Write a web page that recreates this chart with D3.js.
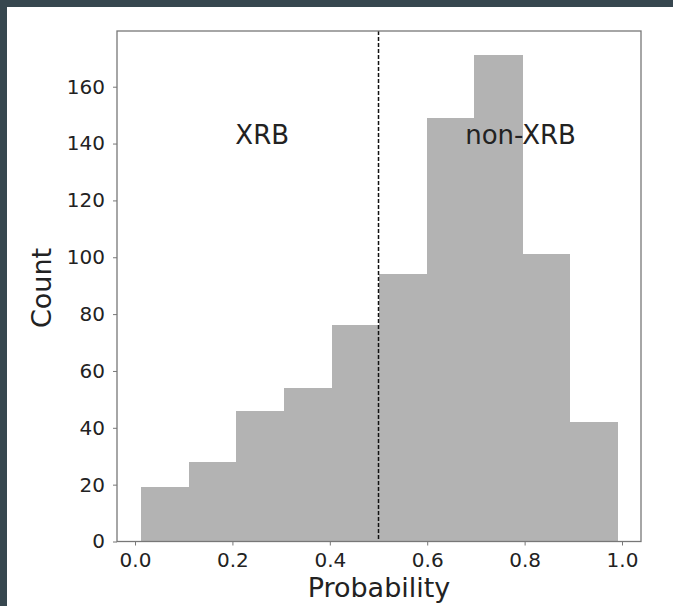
<!DOCTYPE html>
<html>
<head>
<meta charset="utf-8">
<script src="https://cdn.jsdelivr.net/npm/d3@7"></script>
<style>
  html, body { margin: 0; padding: 0; background: #37474f; }
  #chart { width: 673px; height: 606px; }
  text { font-family: "DejaVu Sans", sans-serif; }
</style>
</head>
<body>
<div id="chart"></div>
<script>
// histogram bins
const binEdges = [0.012, 0.110, 0.208, 0.306, 0.404, 0.502, 0.599, 0.697, 0.795, 0.893, 0.990];
const counts = [19, 28, 46, 54, 76, 94, 149, 171, 101, 42];
const xTicks = [0.0, 0.2, 0.4, 0.6, 0.8, 1.0];
const yTicks = [0, 20, 40, 60, 80, 100, 120, 140, 160];
const threshold = 0.5;
const labels = [
  { text: "XRB", x: 0.206, y: 140 },
  { text: "non-XRB", x: 0.678, y: 140 }
];

const W = 673, H = 606;
const plotL = 117, plotR = 641, plotT = 31, plotB = 541.5;

const svg = d3.select('#chart')
  .append('svg')
  .attr('width', W)
  .attr('height', H);

// white panel, dark frame only on the top and left
svg.append('rect')
  .attr('x', 7).attr('y', 7)
  .attr('width', W - 7).attr('height', H - 7)
  .attr('fill', '#ffffff');

const x = d3.scaleLinear().domain([-0.037, 1.039]).range([plotL, plotR]);
const y = d3.scaleLinear().domain([0, 179.6]).range([plotB, plotT]);

const bins = counts.map((c, i) => ({ x0: binEdges[i], x1: binEdges[i + 1], n: c }));

// bars (no seams between neighbours)
svg.selectAll('.bar')
  .data(bins)
  .enter().append('rect')
  .attr('class', 'bar')
  .attr('x', d => x(d.x0))
  .attr('y', d => y(d.n))
  .attr('width', d => x(d.x1) - x(d.x0) + 0.6)
  .attr('height', d => y(0) - y(d.n))
  .attr('fill', '#b3b3b3')
  .attr('shape-rendering', 'crispEdges');

// threshold line
svg.append('line')
  .attr('x1', x(threshold)).attr('x2', x(threshold))
  .attr('y1', plotT).attr('y2', plotB)
  .attr('stroke', '#111')
  .attr('stroke-width', 1.5)
  .attr('stroke-dasharray', '4,2');

// axes
const xAxis = svg.append('g')
  .attr('transform', `translate(0, ${plotB})`)
  .call(d3.axisBottom(x).tickValues(xTicks).tickFormat(d3.format('.1f')).tickSize(4).tickPadding(7));

const yAxis = svg.append('g')
  .attr('transform', `translate(${plotL}, 0)`)
  .call(d3.axisLeft(y).tickValues(yTicks).tickSize(4).tickPadding(8));

[xAxis, yAxis].forEach(g => {
  g.select('.domain').remove();
  g.selectAll('.tick line').attr('stroke', '#777');
  g.selectAll('.tick text')
    .attr('fill', '#222')
    .style('font-size', '20px');
});

// spines
svg.append('rect')
  .attr('x', plotL).attr('y', plotT)
  .attr('width', plotR - plotL).attr('height', plotB - plotT)
  .attr('fill', 'none')
  .attr('stroke', '#777')
  .attr('stroke-width', 1.3);

// annotations
svg.selectAll('.note')
  .data(labels)
  .enter().append('text')
  .attr('class', 'note')
  .attr('x', d => x(d.x))
  .attr('y', d => y(d.y))
  .attr('fill', '#222')
  .style('font-size', '26px')
  .text(d => d.text);

// axis labels
svg.append('text')
  .attr('x', 379)
  .attr('y', 597)
  .attr('text-anchor', 'middle')
  .attr('fill', '#222')
  .style('font-size', '27px')
  .text('Probability');

svg.append('text')
  .attr('transform', 'translate(51, 288) rotate(-90)')
  .attr('text-anchor', 'middle')
  .attr('fill', '#222')
  .style('font-size', '27px')
  .text('Count');
</script>
</body>
</html>
